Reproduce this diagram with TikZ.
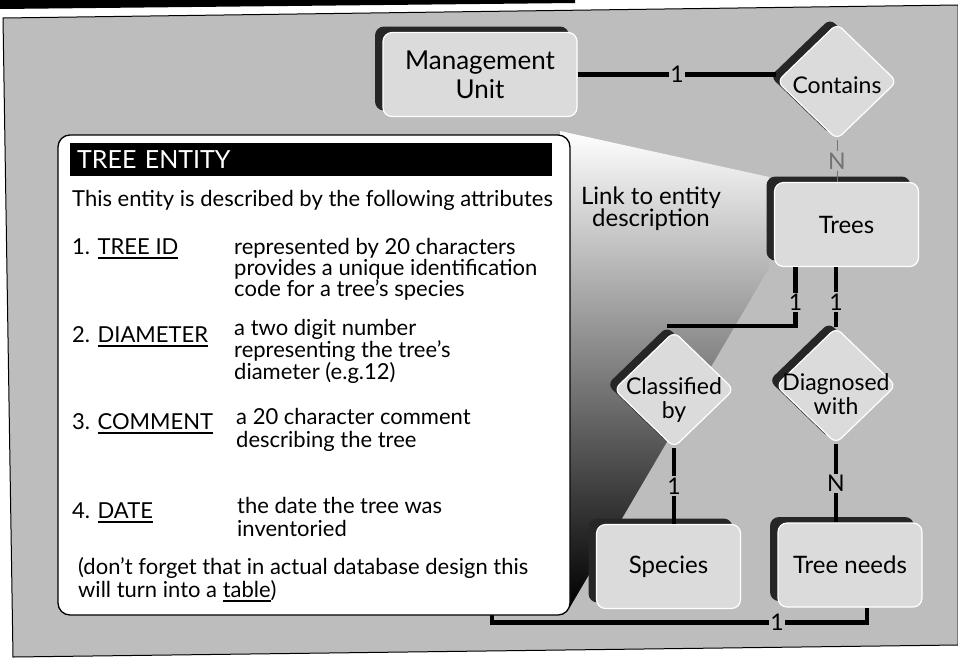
\documentclass[tikz,border=0pt]{standalone}
\usepackage{fontspec}
\setmainfont{Lato}
\usetikzlibrary{shapes.geometric,shadows}

\definecolor{panelgray}{gray}{0.74}
\definecolor{boxgray}{gray}{0.86}
\definecolor{shadowgray}{gray}{0.15}

% text centred on the node without widening the diamond
\newcommand{\ctrtext}[2][-11pt]{\makebox[0pt]{\raisebox{#1}[0pt][0pt]{\begin{tabular}{@{}c@{}}#2\end{tabular}}}}
% underlined attribute name
\newcommand{\undl}[1]{\setbox0\hbox{#1}\rlap{\rule[-4.5pt]{\wd0}{1.6pt}}\box0}

\tikzset{
  ent/.style={draw=white, line width=1.2pt, fill=boxgray, rounded corners=9pt,
    minimum width=144pt, minimum height=84pt, inner sep=0pt, align=center,
    font=\fontsize{24}{29}\selectfont,
    copy shadow={shadow xshift=-8pt, shadow yshift=6pt, fill=shadowgray, draw=none}},
  rel/.style={shape=diamond, draw=white, line width=1.2pt, fill=boxgray, rounded corners=7pt,
    minimum width=120pt, minimum height=116pt, inner sep=0pt,
    font=\fontsize{23}{23}\selectfont,
    copy shadow={shadow xshift=-7pt, shadow yshift=5pt, fill=shadowgray, draw=none}},
  relline/.style={line width=4.5pt},
  fineline/.style={line width=1pt, black!55},
  mult/.style={fill=panelgray, inner sep=1.5pt, font=\fontsize{23}{23}\selectfont},
  descbox/.style={draw=black, line width=1.3pt, fill=white, rounded corners=12pt,
    minimum width=512pt, minimum height=480pt},
  descbar/.style={fill=black, text=white, text width=468pt, align=left, inner xsep=7pt,
    inner ysep=0pt, minimum height=33pt, font=\fontsize{25}{25}\selectfont},
  attr/.style={anchor=base west, inner sep=0pt, font=\fontsize{22}{22}\selectfont},
}

\begin{document}
\begin{tikzpicture}[x=1pt,y=-1pt]
\useasboundingbox (0,0) rectangle (958,657);

% frame
\fill (0,0) -- (575,0) -- (575,3) -- (0,9) -- cycle;
\filldraw[fill=panelgray, line width=1pt] (3,18) -- (958,5) -- (958,645) -- (13,657) -- cycle;

% beam from Trees to its description
\shade[top color=white, middle color=panelgray, bottom color=black]
  (560,131) -- (769,177) -- (769,268) -- (570,607) -- cycle;

% entities and relationships
\node[ent, minimum width=194pt, font=\fontsize{26}{29}\selectfont] (mgmt) at (480,74.5) {Management\\Unit};
\node[rel] (contains) at (837,81.5) {\ctrtext[-13pt]{Contains}};
\node[ent] (trees) at (846.5,224.5) {Trees};
\node[rel] (classified) at (674,389.5) {\ctrtext[-18pt]{Classified\\by}};
\node[rel] (diagnosed) at (836,385.5) {\ctrtext[-18pt]{Diagnosed\\with}};
\node[ent] (species) at (668.5,566.5) {Species};
\node[ent] (needs) at (850,565) {Tree needs};

% connectors
\draw[relline] (mgmt.east) -- node[mult]{1} (mgmt.east -| contains.west);
\draw[fineline] (contains.south) -- node[mult]{N} (contains.south |- trees.north);
\draw[relline] ([xshift=-51pt]trees.south) |- node[mult,pos=0.3]{1} ([xshift=-7pt,yshift=5pt]classified.north);
\draw[relline] (trees.south -| diagnosed.north) -- node[mult,pos=0.58]{1} (diagnosed.north);
\draw[relline] (classified.south) -- node[mult]{1} (classified.south |- species.north);
\draw[relline] (diagnosed.south) -- node[mult]{N} (diagnosed.south |- needs.north);
\coordinate (boxfoot) at (492,600);
\draw[relline] ([xshift=17pt]needs.south) -- ++(0,15) -| node[mult,pos=0.12]{1} (boxfoot);

\node[align=center, font=\fontsize{24}{22}\selectfont] (linkdesc) at (651,209) {Link to entity\\description};

% entity description
\node[descbox] (desc) at (314,375) {};
\node[descbar, anchor=west] (desctitle) at (70,159.5) {TREE ENTITY};
\foreach \n/\x/\y/\t in {
  intro/72/206/This entity is described by the following attributes,
  k1/72/254/{1. \undl{TREE ID}},
  k2/72/342/{2. \undl{DIAMETER}},
  k3/72/429/{3. \undl{COMMENT}},
  k4/72/518/{4. \undl{DATE}},
  d1a/234/254/represented by 20 characters,
  d1b/234/275/provides a unique identification,
  d1c/234/296/code for a tree's species,
  d2a/234/335/a two digit number,
  d2b/234/357/representing the tree’s,
  d2c/234/379/diameter (e.g.12),
  d3a/236/424/a 20 character comment,
  d3b/236/447/describing the tree,
  d4a/237/513/the date the tree was,
  d4b/237/536/inventoried,
  n1/78/574/(don't forget that in actual database design this,
  n2/78/597/{will turn into a \undl{table})}}
  \node[attr] (\n) at (\x,\y) {\t};
\end{tikzpicture}
\end{document}
